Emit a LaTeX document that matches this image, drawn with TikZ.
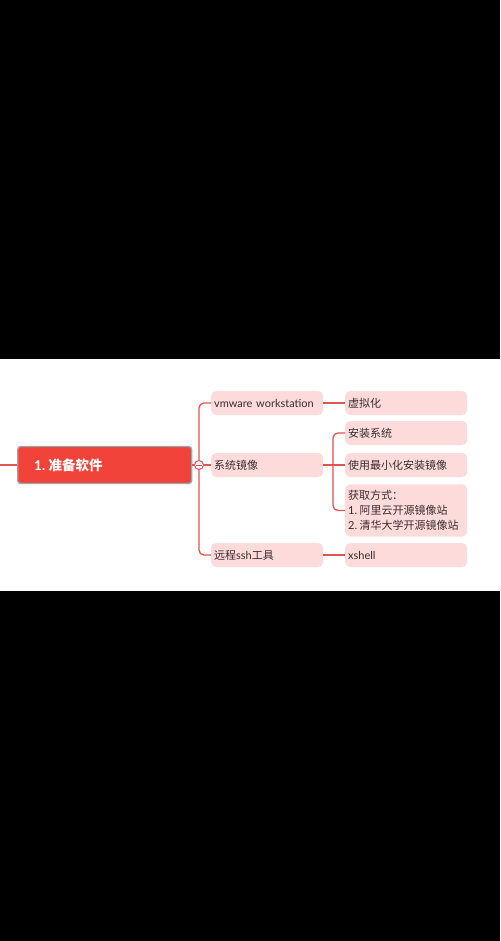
\documentclass[tikz,border=0pt]{standalone}
\usepackage{fontspec}
\setmainfont{Lato}
\newfontfamily\cjk{Noto Sans CJK SC}
\usetikzlibrary{positioning}
\definecolor{cR}{HTML}{F2433A}
\definecolor{cL}{HTML}{E0554F}
\definecolor{cP}{HTML}{FCDBDA}
\definecolor{cT}{HTML}{3A2C2C}
\definecolor{cG}{HTML}{98A8AE}
\tikzset{leaf/.style={fill=cP,rounded corners=5pt,text=cT,font=\fontsize{11}{15}\selectfont,align=left,anchor=west,inner ysep=0pt,minimum height=24pt},
  branch/.style={leaf,text width=106pt,inner xsep=3pt},
  twig/.style={leaf,text width=116pt,inner xsep=3pt},
  link/.style={cL,line width=1.3pt,rounded corners=5pt}}

\begin{document}
\begin{tikzpicture}[x=1pt,y=1pt]
  % page and white band
  \useasboundingbox (0,0) rectangle (500,-941);
  \fill[black] (0,0) rectangle (500,-941);
  \fill[white] (0,-359) rectangle (500,-591);
  % root
  \node[fill=cR,draw=cG,line width=1.4pt,rounded corners=3pt,anchor=west,text width=141pt,inner xsep=16.5pt,minimum height=37pt,
    text=white,font=\fontsize{13.5}{16}\selectfont\bfseries,align=left] (root) at (17,-465) {1.\hspace{3.5pt}{\cjk 准备软件}};
  \coordinate (lft) at (0,-465);
  \node[circle,draw=cL,fill=white,line width=1pt,inner sep=0pt,minimum size=9pt] (dot) at (199,-465) {};
  % branches
  \node[branch] (vm) at (211,-403) {vmware workstation};
  \node[branch] (img) at (211,-465) {\cjk 系统镜像};
  \node[branch] (ssh) at (211,-555) {{\cjk 远程}ssh{\cjk 工具}};
  % twigs
  \node[twig] (virt) at (345,-403) {\cjk 虚拟化};
  \node[twig] (inst) at (345,-433) {\cjk 安装系统};
  \node[twig] (mini) at (345,-465) {\cjk 使用最小化安装镜像};
  \node[twig,inner ysep=6pt] (get) at (345,-510.5) {{\cjk 获取方式：}\\1.\hspace{2.5pt}{\cjk 阿里云开源镜像站}\\2.\hspace{2.5pt}{\cjk 清华大学开源镜像站}};
  \node[twig] (xsh) at (345,-555) {xshell};
  \coordinate (j2) at (333,-465);
  % links
  \draw[link] (lft) -- (root.west);
  \draw[link] (root.east) -- (dot.west);
  \draw[link] (dot.north) |- (vm.west);
  \draw[link] (dot.east) -- (img.west);
  \draw[link] (dot.south) |- (ssh.west);
  \draw[cL,line width=1pt] ([xshift=2pt]dot.west) -- ([xshift=-2pt]dot.east);
  \draw[link] (vm.east) -- (virt.west);
  \draw[link] (img.east) -- (j2);
  \draw[link] (j2) |- (inst.west);
  \draw[link] (j2) -- (mini.west);
  \draw[link] (j2) |- (get.west);
  \draw[link] (ssh.east) -- (xsh.west);
\end{tikzpicture}
\end{document}
